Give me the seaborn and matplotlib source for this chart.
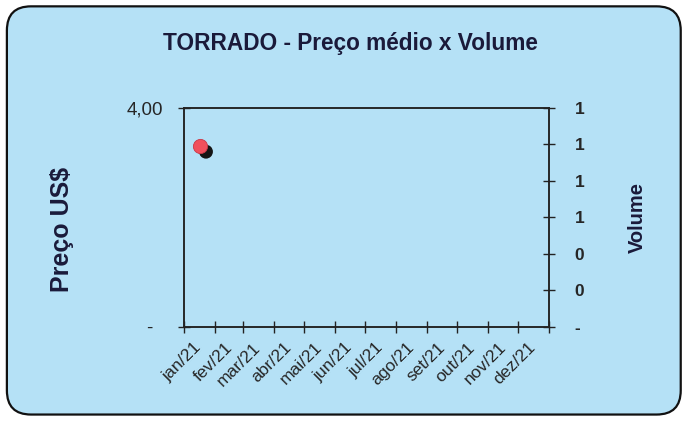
import matplotlib.pyplot as plt
import matplotlib.dates as mdates
import matplotlib.transforms as mtransforms
import numpy as np
import pandas as pd
import seaborn as sns
from matplotlib.patches import FancyBboxPatch

# data
price_dates = ['2021-01-17']
price_values = [3.3]
volume_dates = ['2021-01-23']
volume_values = [0.96]
month_labels = ['jan/21', 'fev/21', 'mar/21', 'abr/21', 'mai/21', 'jun/21',
                'jul/21', 'ago/21', 'set/21', 'out/21', 'nov/21', 'dez/21']
price_ticks = [0, 4]
price_ticklabels = ['-  ', '4,00']
volume_ticks = [0, 0.2, 0.4, 0.6, 0.8, 1.0, 1.2]
volume_ticklabels = ['-', '0', '0', '1', '1', '1', '1']

bg = '#b5e1f6'
sns.set_style('ticks')
plt.rcParams['font.family'] = ['Liberation Sans', 'DejaVu Sans']

price_df = pd.DataFrame({'Data': pd.to_datetime(price_dates), 'Preço': price_values})
vol_df = pd.DataFrame({'Data': pd.to_datetime(volume_dates), 'Volume': volume_values})

fig = plt.figure(figsize=(6.89, 4.23), dpi=100)
fig.patch.set_facecolor('white')
frame = FancyBboxPatch((0.010, 0.02), 0.978, 0.965, boxstyle='round,pad=0,rounding_size=0.035',
                       transform=fig.transFigure, facecolor=bg, edgecolor='#111111', lw=1.6,
                       mutation_aspect=689 / 423, zorder=-10)
fig.patches.append(frame)

ax = fig.add_axes([0.267, 0.227, 0.530, 0.518])
ax.patch.set_visible(False)
ax2 = ax.twinx()
ax2.patch.set_visible(False)
ax.set_zorder(ax2.get_zorder() + 1)

sns.scatterplot(data=vol_df, x='Data', y='Volume', ax=ax2, color='#151515', s=100,
                edgecolor='none', legend=False)
sns.scatterplot(data=price_df, x='Data', y='Preço', ax=ax, color='#f0505c', s=105,
                edgecolor='#c83848', linewidth=0.6, legend=False)

start = pd.Timestamp('2021-01-01')
ticks = pd.date_range(start, periods=13, freq='MS')
ax.set_xlim(mdates.date2num(start), mdates.date2num(ticks[-1]))
ax.set_xticks(mdates.date2num(ticks))

ax.set_ylim(0, 4)
ax.set_yticks(price_ticks)
ax.set_yticklabels(price_ticklabels, fontsize=13.5)
ax2.set_ylim(0, 1.2)
ax2.set_yticks(volume_ticks)
ax2.set_yticklabels(volume_ticklabels, fontsize=12.5, fontweight='bold')

for a in (ax, ax2):
    a.tick_params(direction='inout', length=8.5, width=1, color='#222222')
    for s in a.spines.values():
        s.set_color('#222222')
        s.set_linewidth(1.1)
ax.tick_params(axis='y', pad=10.5)
ax2.tick_params(axis='y', pad=14)
ax.tick_params(axis='x', pad=5)

# month labels, nudged right like the excel original
ax.set_xticklabels(month_labels + [''], rotation=45, ha='right', rotation_mode='anchor',
                   fontsize=12.5)
shift = mtransforms.ScaledTranslation(10 / 100, 0, fig.dpi_scale_trans)
for lbl in ax.get_xticklabels():
    lbl.set_transform(lbl.get_transform() + shift)

ax.set_xlabel('')
ax.set_ylabel('Preço US$', fontsize=18, fontweight='bold', color='#1a1a3a')
ax.yaxis.set_label_coords(-0.30, 0.447)
ax2.set_ylabel('Volume', fontsize=14.5, fontweight='bold', color='#1a1a3a')
ax2.yaxis.set_label_coords(1.215, 0.498)
fig.text(0.509, 0.896, 'TORRADO - Preço médio x Volume', ha='center', va='center',
         fontsize=16.3, fontweight='bold', color='#1a1a3a')

fig.savefig('out.png', dpi=100)
